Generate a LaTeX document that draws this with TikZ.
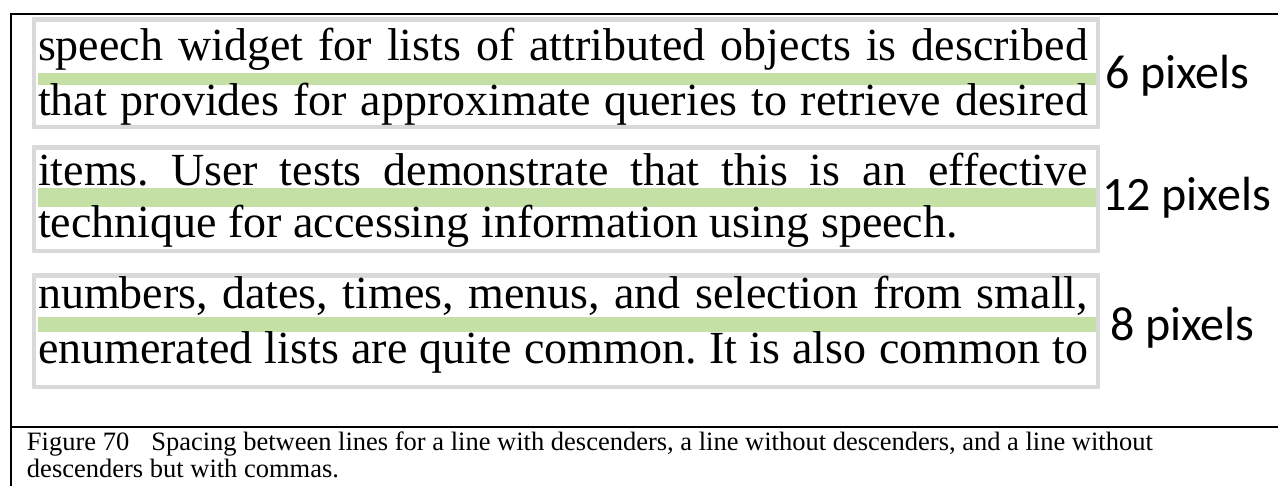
\documentclass[tikz,border=0pt]{standalone}
\usepackage{fontspec}
\setmainfont{Liberation Serif}
\newfontfamily\pixfont{Carlito}
\usetikzlibrary{positioning}
\definecolor{bandgreen}{RGB}{197,224,164}
\definecolor{boxgray}{RGB}{217,217,217}
\frenchspacing

\begin{document}
\begin{tikzpicture}[
        x=1pt, y=-1pt,
        every node/.style={inner sep=0pt, outer sep=0pt},
        samplebox/.style={
            draw=boxgray,
            line width=4.5pt,
            fill=white,
            anchor=north west,
            minimum width=1064pt
        },
        band/.style={
            fill=bandgreen,
            anchor=west,
            minimum width=1058pt
        },
        sampleline/.style={
            anchor=base west,
            font=\fontsize{46pt}{50pt}\selectfont
        },
        pixlabel/.style={
            anchor=base west,
            font=\pixfont\fontsize{48pt}{52pt}\selectfont
        },
        captionline/.style={
            anchor=base west,
            font=\fontsize{26.5pt}{30pt}\selectfont
        },
        frameline/.style={line width=2.5pt}
    ]
        \useasboundingbox (0,0) rectangle (1278,485);

        \draw[frameline] (1280,14) -- (11,14) -- (11,487);
        \draw[frameline] (11,427) -- (1280,427);

        \node[samplebox, minimum height=107.5pt] (boxA) at (34,19.25) {};
        \node[samplebox, minimum height=103.5pt, below=20.5pt of boxA] (boxB) {};
        \node[samplebox, minimum height=111.5pt, below=24.5pt of boxB] (boxC) {};

        \node[band, minimum height=12pt] (bandA) at (38,79) {};
        \node[band, minimum height=19pt] (bandB) at (38,197.5) {};
        \node[band, minimum height=15pt] (bandC) at (38,324.5) {};

        \node[sampleline] (lineA1) at (38,60) {\makebox[1050pt][s]{speech widget for lists of attributed objects is described}};
        \node[sampleline] (lineA2) at (38,115) {\makebox[1050pt][s]{that provides for approximate queries to retrieve desired}};
        \node[sampleline] (lineB1) at (38,185) {\makebox[1050pt][s]{items. User tests demonstrate that this is an effective}};
        \node[sampleline] (lineB2) at (38,237) {technique for accessing information using speech.};
        \node[sampleline] (lineC1) at (38,308) {\makebox[1050pt][s]{numbers, dates, times, menus, and selection from small,}};
        \node[sampleline] (lineC2) at (38,363) {\makebox[1050pt][s]{enumerated lists are quite common. It is also common to}};

        \node[pixlabel] (pixA) at (1105,88) {6 pixels};
        \node[pixlabel] (pixB) at (1102,210) {12 pixels};
        \node[pixlabel] (pixC) at (1110,340) {8 pixels};

        \node[captionline] (capA) at (27,450) {Figure 70\hspace{22pt}Spacing between lines for a line with descenders, a line without descenders, and a line without};
        \node[captionline] (capB) at (27,477) {descenders but with commas.};
    \end{tikzpicture}
\end{document}
